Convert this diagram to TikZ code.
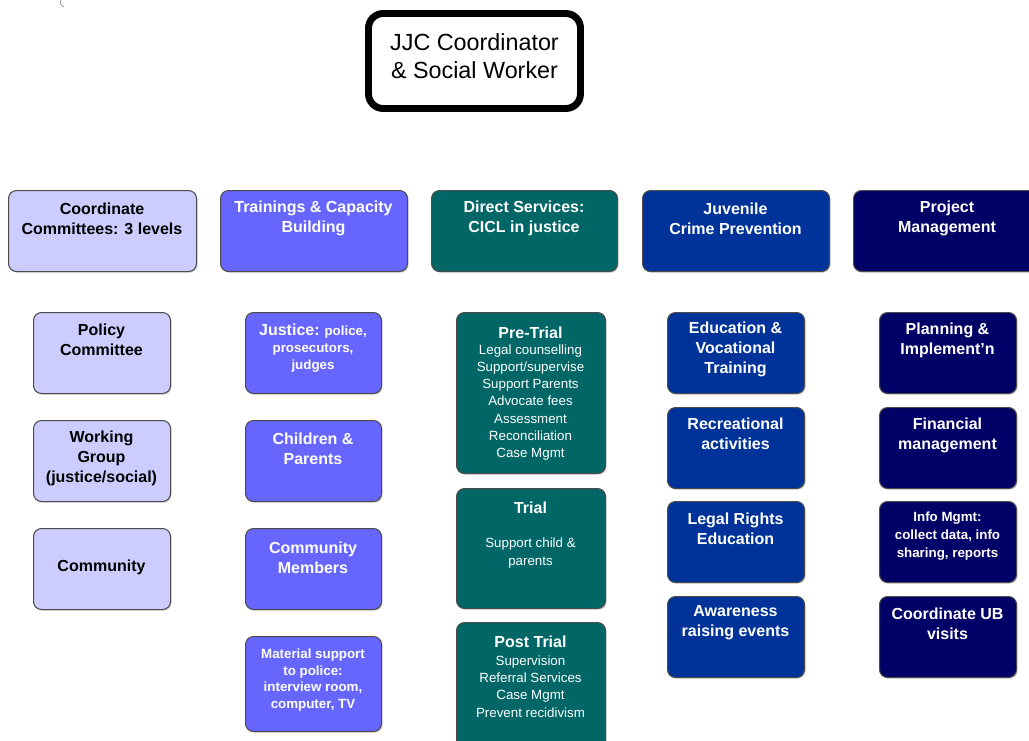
\documentclass[tikz,border=0pt]{standalone}
\usepackage{fontspec}
\setmainfont{Liberation Sans}
\usetikzlibrary{shadows}
\definecolor{lavbox}{HTML}{CCCCFF}
\definecolor{peribox}{HTML}{6666FF}
\definecolor{tealbox}{HTML}{006666}
\definecolor{royalbox}{HTML}{003399}
\definecolor{navybox}{HTML}{000066}
\tikzset{
  cell/.style={draw=black!70, line width=0.8pt, rounded corners=6pt, inner sep=0pt,
    anchor=north west,
    drop shadow={shadow xshift=0.9pt, shadow yshift=-0.9pt, opacity=0.35}},
  topbox/.style={draw=black, line width=5.2pt, rounded corners=11pt, inner sep=0pt, fill=white},
  lbl/.style={align=center, inner sep=0pt, font=\bfseries\fontsize{12}{15}\selectfont},
  lblw/.style={lbl, text=white},
  lbls/.style={align=center, inner sep=0pt, text=white, font=\fontsize{10}{12.9}\selectfont},
  lblsb/.style={align=center, inner sep=0pt, text=white, font=\bfseries\fontsize{10}{12.6}\selectfont},
}
% box macro: name, left, top, width, height (pixels), fill colour
\newcommand{\cellbox}[6]{\node[cell, fill=#6, minimum width=#4*0.75pt, minimum height=#5*0.75pt] (#1) at (#2,#3) {};}
\begin{document}
\begin{tikzpicture}[x=0.75pt, y=-0.75pt]
\useasboundingbox (0,0) rectangle (1029,740);
\clip (0,0) rectangle (1029,740);

% small pen stroke near the top edge
\draw[black!45, line width=0.5pt] (61,0) .. controls (60,4) .. (64,7);

% coordinator
\node[topbox, minimum width=212*0.75pt, minimum height=95*0.75pt] (coord) at (474.5,61) {};
\node[align=center, inner sep=0pt, font=\fontsize{17.5}{21}\selectfont] (coordtxt) at (474.5,56) {JJC Coordinator\\\& Social Worker};

% column headers
\cellbox{h1}{8}{190}{188}{81}{lavbox}
\cellbox{h2}{220}{190}{187}{81}{peribox}
\cellbox{h3}{431}{190}{186}{81}{tealbox}
\cellbox{h4}{642}{190}{187}{81}{royalbox}
\cellbox{h5}{853}{190}{190}{81}{navybox}
\node[lbl] (h1t) at (102,218.5) {Coordinate\\Committees: 3 levels};
\node[lblw] (h2t) at (313.5,218.5) {Trainings \& Capacity\\Building};
\node[lblw] (h3t) at (524,218.5) {Direct Services:\\CICL in justice};
\node[lblw] (h4t) at (735.5,218.5) {Juvenile\\Crime Prevention};
\node[lblw] (h5t) at (947,218.5) {Project\\Management};

% coordinate committees
\cellbox{a1}{33}{312}{137}{81}{lavbox}
\cellbox{a2}{33}{420}{137}{81}{lavbox}
\cellbox{a3}{33}{528}{137}{81}{lavbox}
\node[lbl] (a1t) at (101.5,340) {Policy\\Committee};
\node[lbl] (a2t) at (101.5,458.5) {Working\\Group\\(justice/social)};
\node[lbl] (a3t) at (101.5,567) {Community};

% trainings and capacity building
\cellbox{b1}{245}{312}{136}{81}{peribox}
\cellbox{b2}{245}{420}{136}{81}{peribox}
\cellbox{b3}{245}{528}{136}{81}{peribox}
\cellbox{b4}{245}{636}{136}{95}{peribox}
\node[lblsb] (b1t) at (313,348) {{\fontsize{12}{12.6}\selectfont Justice:} police,\\prosecutors,\\judges};
\node[lblw] (b2t) at (313,448.5) {Children \&\\Parents};
\node[lblw] (b3t) at (313,557.5) {Community\\Members};
\node[lblsb] (b4t) at (313,680) {Material support\\to police:\\interview room,\\computer, TV};

% direct services
\cellbox{c1}{456}{312}{149}{161}{tealbox}
\cellbox{c2}{456}{488}{149}{120}{tealbox}
\cellbox{c3}{456}{622}{149}{140}{tealbox}
\node[lblw] (c1h) at (530.5,333) {Pre-Trial};
\node[lbls] (c1t) at (530.5,402.5) {Legal counselling\\Support/supervise\\Support Parents\\Advocate fees\\Assessment\\Reconciliation\\Case Mgmt};
\node[lblw] (c2h) at (530.5,508) {Trial};
\node[lbls] (c2t) at (530.5,553) {Support child \&\\parents};
\node[lblw] (c3h) at (530.5,642) {Post Trial};
\node[lbls] (c3t) at (530.5,686.5) {Supervision\\Referral Services\\Case Mgmt\\Prevent recidivism};

% juvenile crime prevention
\cellbox{d1}{667}{312}{137}{81}{royalbox}
\cellbox{d2}{667}{407}{137}{81}{royalbox}
\cellbox{d3}{667}{501}{137}{81}{royalbox}
\cellbox{d4}{667}{596}{137}{81}{royalbox}
\node[lblw] (d1t) at (735.5,349) {Education \&\\Vocational\\Training};
\node[lblw] (d2t) at (735.5,433.5) {Recreational\\activities};
\node[lblw] (d3t) at (735.5,528.5) {Legal Rights\\Education};
\node[lblw] (d4t) at (735.5,623) {Awareness\\raising events};

% project management
\cellbox{e1}{879}{312}{137}{81}{navybox}
\cellbox{e2}{879}{407}{137}{81}{navybox}
\cellbox{e3}{879}{501}{137}{81}{navybox}
\cellbox{e4}{879}{596}{137}{81}{navybox}
\node[lblw] (e1t) at (947.5,340) {Planning \&\\Implement'n};
\node[lblw] (e2t) at (947.5,435) {Financial\\management};
\node[lblsb, font=\bfseries\fontsize{10}{13.5}\selectfont] (e3t) at (947.5,536.5) {Info Mgmt:\\collect data, info\\sharing, reports};
\node[lblw] (e4t) at (947.5,624) {Coordinate UB\\visits};
\end{tikzpicture}
\end{document}
